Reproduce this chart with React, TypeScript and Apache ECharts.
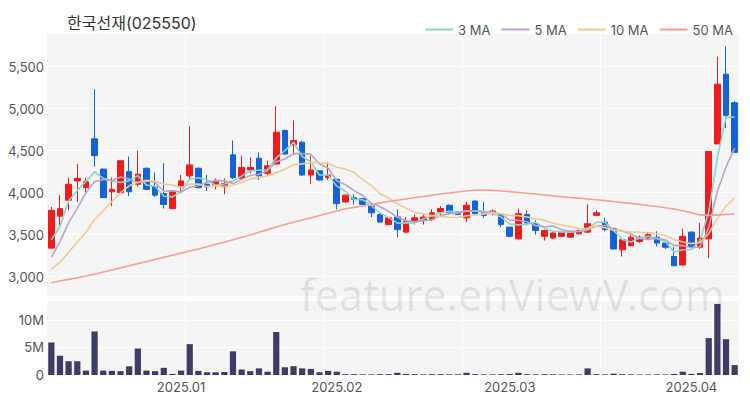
import React, { useEffect, useRef } from "react";
import * as echarts from "echarts";

const dates = [
  "2024-12-09","2024-12-10","2024-12-11","2024-12-12","2024-12-13","2024-12-16","2024-12-17","2024-12-18","2024-12-19","2024-12-20",
  "2024-12-23","2024-12-24","2024-12-26","2024-12-27","2024-12-30",
  "2025-01-02","2025-01-03","2025-01-06","2025-01-07","2025-01-08","2025-01-09","2025-01-10","2025-01-13","2025-01-14","2025-01-15",
  "2025-01-16","2025-01-17","2025-01-20","2025-01-21","2025-01-22","2025-01-23","2025-01-24","2025-01-31",
  "2025-02-03","2025-02-04","2025-02-05","2025-02-06","2025-02-07","2025-02-10","2025-02-11","2025-02-12","2025-02-13","2025-02-14",
  "2025-02-17","2025-02-18","2025-02-19","2025-02-20","2025-02-21","2025-02-24","2025-02-25","2025-02-26","2025-02-27","2025-02-28",
  "2025-03-03","2025-03-04","2025-03-05","2025-03-06","2025-03-07","2025-03-10","2025-03-11","2025-03-12","2025-03-13","2025-03-14",
  "2025-03-17","2025-03-18","2025-03-19","2025-03-20","2025-03-21","2025-03-24","2025-03-25","2025-03-26","2025-03-27","2025-03-28",
  "2025-03-31",
  "2025-04-01","2025-04-02","2025-04-03","2025-04-04","2025-04-07","2025-04-08",
];

const opens = [
  3340,3720,3910,4140,4060,4640,4280,4010,4000,4250,
  4100,4290,4070,3990,3810,4080,4200,4290,4100,4090,
  4070,4450,4170,4270,4410,4230,4340,4740,4570,4600,
  4210,4260,4180,4160,3890,3940,3930,3840,3740,3620,
  3710,3530,3660,3670,3680,3770,3850,3770,3700,3900,
  3770,3750,3740,3590,3450,3740,3630,3480,3460,3480,
  3470,3510,3530,3730,3650,3570,3320,3370,3420,3460,
  3470,3400,3240,3140,3530,3350,3450,4580,5410,5070,
];
const closes = [
  3790,3810,4100,4170,4130,4440,3940,4040,4380,4010,
  4220,4040,3970,3860,4020,4140,4330,4060,4070,4130,
  4110,4180,4300,4300,4200,4320,4720,4460,4620,4210,
  4270,4150,4210,3870,3970,3920,3860,3760,3650,3700,
  3560,3660,3700,3710,3760,3810,3760,3740,3850,3750,
  3730,3780,3620,3480,3750,3640,3550,3550,3520,3530,
  3540,3550,3630,3760,3560,3330,3440,3470,3470,3500,
  3400,3350,3130,3480,3360,3460,4490,5290,4920,4480,
];
const lows = [
  3330,3610,3790,3890,4000,4310,3940,3840,4000,3960,
  4070,4030,3950,3810,3800,4020,4150,4050,4020,4040,
  3980,4160,4150,4230,4150,4200,4330,4450,4450,4200,
  4100,4140,4150,3800,3880,3860,3850,3710,3640,3610,
  3470,3520,3620,3620,3660,3730,3740,3730,3650,3740,
  3700,3730,3590,3470,3440,3610,3500,3430,3450,3470,
  3460,3500,3520,3720,3540,3320,3240,3360,3400,3440,
  3360,3330,3130,3130,3350,3330,3220,4580,4770,4480,
];
const highs = [
  3830,3970,4180,4340,4180,5230,4290,4180,4380,4430,
  4500,4300,4240,4350,4030,4210,4790,4300,4210,4170,
  4170,4620,4440,4420,4480,4380,5030,4750,4860,4620,
  4440,4260,4360,4160,3980,3980,3940,3850,3750,3710,
  3800,3710,3740,3740,3800,3840,3860,3780,3890,3910,
  3890,3800,3750,3590,3810,3790,3670,3560,3530,3540,
  3550,3560,3860,3790,3700,3580,3450,3500,3490,3520,
  3540,3420,3350,3570,3540,3640,4490,5620,5740,5090,
];

// closes before the first visible session (estimated from where the short MAs begin)
const priorCloses = [2950, 2930, 2940, 2960, 2920, 2900, 2950, 3330, 3190];

// 50-day moving average
const ma50 = [
  2928,2948,2968,2988,3008,3030,3055,3080,3105,3130,
  3155,3180,3205,3230,3255,3280,3305,3330,3355,3385,
  3410,3440,3468,3496,3528,3560,3590,3620,3648,3675,
  3700,3728,3755,3782,3808,3825,3842,3860,3878,3895,
  3910,3925,3940,3955,3970,3983,3995,4008,4020,4028,
  4030,4027,4020,4012,4002,3992,3982,3972,3962,3952,
  3942,3933,3924,3915,3905,3895,3883,3872,3860,3848,
  3835,3820,3805,3785,3760,3735,3730,3735,3740,3745,
];

// volume in millions of shares
const volumesM = [
  5.9,3.5,2.5,2.5,0.8,7.9,0.8,0.75,0.7,1.6,
  4.8,0.8,0.7,1.3,0.2,0.8,5.6,0.75,0.5,0.5,
  0.55,4.3,1.0,0.7,1.2,0.6,7.8,1.4,1.6,1.2,
  1.1,0.5,0.75,0.6,0.15,0.15,0.12,0.12,0.15,0.15,
  0.4,0.2,0.15,0.12,0.15,0.15,0.12,0.12,0.4,0.15,
  0.12,0.12,0.15,0.2,0.4,0.15,0.12,0.15,0.12,0.1,
  0.1,0.12,1.2,0.15,0.12,0.25,0.15,0.12,0.1,0.1,
  0.12,0.1,0.2,0.6,0.2,0.35,6.7,12.9,6.5,1.8,
];

const maNames = ["3 MA", "5 MA", "10 MA", "50 MA"];
const maColors = ["#86d6c8", "#b9a5cb", "#f1c993", "#f5a092"];

function movingAverage(n: number): (number | string)[] {
  const all = priorCloses.concat(closes);
  const off = priorCloses.length;
  return closes.map((_, i) => {
    const end = off + i;
    const start = end - n + 1;
    if (start < 0) return "-";
    let s = 0;
    for (let k = start; k <= end; k++) s += all[k];
    return Math.round(s / n);
  });
}

export default function App() {
  const ref = useRef<HTMLDivElement>(null);
  useEffect(() => {
    if (!ref.current) return;
    const chart = echarts.init(ref.current, undefined, { renderer: "svg" });
    const font = 'Inter, "Noto Sans CJK KR", "Noto Sans", sans-serif';
    const candleData = dates.map((_, i) => [opens[i], closes[i], lows[i], highs[i]]);
    const volData = volumesM.map((v) => v * 1e6);
    const maData = [movingAverage(3), movingAverage(5), movingAverage(10), ma50];

    const monthLabel = (value: string, index: number) => {
      if (index === 0) return "";
      const prev = dates[index - 1];
      if (prev && prev.slice(0, 7) !== value.slice(0, 7)) {
        return value.slice(0, 4) + "." + value.slice(5, 7);
      }
      return "";
    };
    const splitInterval = (index: number) => index > 0 && index % 16 === 0;

    chart.setOption({
      animation: false,
      backgroundColor: "#ffffff",
      textStyle: { fontFamily: font },
      title: {
        text: "한국선재(025550)",
        left: 62,
        top: 10,
        textStyle: { fontSize: 16, fontWeight: "normal", color: "#333", fontFamily: font },
      },
      legend: {
        data: maNames,
        right: 12,
        top: 18,
        icon: "rect",
        itemWidth: 28,
        itemHeight: 2,
        itemGap: 11,
        textStyle: { fontSize: 13, color: "#555", fontFamily: font },
      },
      grid: [
        { left: 47, right: 11, top: 33, height: 263, show: true, backgroundColor: "#f5f5f6", borderWidth: 0 },
        { left: 47, right: 11, top: 300, height: 75, show: true, backgroundColor: "#f5f5f6", borderWidth: 0 },
      ],
      xAxis: [
        {
          type: "category",
          data: dates,
          gridIndex: 0,
          boundaryGap: true,
          axisLine: { show: false },
          axisTick: { show: false },
          axisLabel: { show: false },
          splitLine: { show: true, interval: splitInterval, lineStyle: { color: "#ffffff", width: 1 } },
        },
        {
          type: "category",
          data: dates,
          gridIndex: 1,
          boundaryGap: true,
          axisLine: { show: false },
          axisTick: { show: false },
          axisLabel: {
            interval: 0,
            formatter: monthLabel,
            color: "#555",
            fontSize: 13,
            margin: 5,
            fontFamily: font,
          },
          splitLine: { show: true, interval: splitInterval, lineStyle: { color: "#ffffff", width: 1 } },
        },
      ],
      yAxis: [
        {
          type: "value",
          gridIndex: 0,
          min: 2770,
          max: 5900,
          splitNumber: 6,
          axisLine: { show: false },
          axisTick: { show: false },
          axisLabel: {
            color: "#555",
            fontSize: 13,
            margin: 3,
            fontFamily: font,
            showMinLabel: false,
            showMaxLabel: false,
            formatter: (v: number) => v.toLocaleString("en-US"),
          },
          splitLine: { show: true, lineStyle: { color: "#ffffff", width: 1 } },
        },
        {
          type: "value",
          gridIndex: 1,
          min: 0,
          max: (e: { max: number }) => e.max * 1.055,
          interval: 5e6,
          axisLine: { show: false },
          axisTick: { show: false },
          axisLabel: {
            color: "#555",
            fontSize: 13,
            margin: 3,
            fontFamily: font,
            showMaxLabel: false,
            formatter: (v: number) => (v === 0 ? "0" : v / 1e6 + "M"),
          },
          splitLine: { show: true, lineStyle: { color: "#ffffff", width: 1 } },
        },
      ],
      graphic: [
        {
          type: "text",
          left: 300,
          top: 273,
          z: 100,
          silent: true,
          style: {
            text: "feature.enViewV.com",
            fontSize: 43,
            fontFamily: '"Noto Sans", sans-serif',
            fill: "rgba(0,0,0,0.09)",
          },
        },
      ],
      series: [
        {
          type: "candlestick",
          name: "price",
          xAxisIndex: 0,
          yAxisIndex: 0,
          data: candleData,
          barWidth: "70%",
          itemStyle: {
            color: "#f31a1d",
            color0: "#1462d8",
            borderColor: "#f31a1d",
            borderColor0: "#1462d8",
            borderWidth: 1,
          },
        },
        ...maNames.map((name, k) => ({
          type: "line",
          name,
          xAxisIndex: 0,
          yAxisIndex: 0,
          data: maData[k],
          showSymbol: false,
          symbol: "none",
          smooth: false,
          lineStyle: { color: maColors[k], width: 1.6 },
          itemStyle: { color: maColors[k] },
          z: 3,
        })),
        {
          type: "bar",
          name: "volume",
          xAxisIndex: 1,
          yAxisIndex: 1,
          data: volData,
          barWidth: "72%",
          itemStyle: { color: "#3d3d66" },
        },
      ],
    });
    return () => chart.dispose();
  }, []);
  return <div ref={ref} style={{ position: "absolute", left: 0, top: 0, width: 750, height: 400 }} />;
}
